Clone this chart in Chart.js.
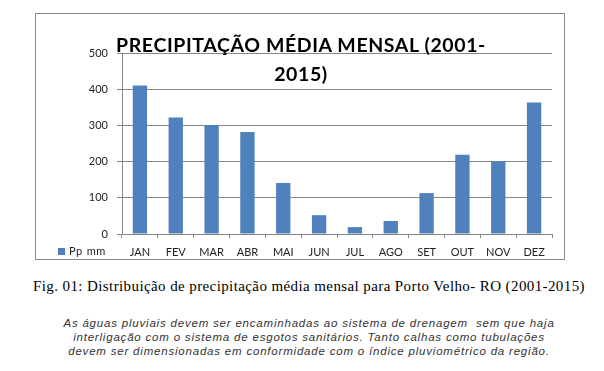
<!DOCTYPE html>
<html>
<head>
<meta charset="utf-8">
<script src="https://cdn.jsdelivr.net/npm/chart.js@4/dist/chart.umd.min.js"></script>
<style>
  html, body { margin: 0; padding: 0; background: #fff; }
  #page { position: relative; width: 604px; height: 371px; overflow: hidden; }
  #box { position: absolute; left: 35px; top: 13px; width: 528px; height: 245px; border: 1px solid #8a8a8a; }
  #chart { position: absolute; left: 0; top: 0; }
  #titulo { position: absolute; left: 0; top: 16px; width: 530px; text-align: center; font-family: Lato, sans-serif; font-weight: bold; font-size: 19.5px; letter-spacing: 0.6px; line-height: 29px; color: #000; }
  #legenda { position: absolute; left: 22px; top: 230px; font-family: Lato, sans-serif; font-size: 11px; color: #222; word-spacing: 1px; letter-spacing: 0.4px; }
  #legenda span { display: inline-block; width: 7px; height: 7px; margin-right: 4px; vertical-align: 0px; }
  #fig { position: absolute; left: 33px; top: 278px; font-family: "Liberation Serif", "Times New Roman", serif; font-size: 15px; letter-spacing: 0.4px; color: #000; white-space: nowrap; }
  #texto { position: absolute; left: 0; top: 316px; width: 618px; text-align: center; font-family: "Liberation Sans", Arial, sans-serif; font-style: italic; font-size: 11.5px; line-height: 14px; letter-spacing: 0.8px; color: #333; white-space: nowrap; }
</style>
</head>
<body>
<div id="page">
  <div id="box">
    <canvas id="chart" width="528" height="245"></canvas>
    <div id="titulo">PRECIPITAÇÃO MÉDIA MENSAL (2001-<br>2015)</div>
    <div id="legenda"></div>
  </div>
  <div id="fig">Fig. 01: Distribuição de precipitação média mensal para Porto Velho- RO (2001-2015)</div>
  <div id="texto">As águas pluviais devem ser encaminhadas ao sistema de drenagem&nbsp; sem que haja<br>interligação com o sistema de esgotos sanitários. Tanto calhas como tubulações<br>devem ser dimensionadas em conformidade com o índice pluviométrico da região.</div>
</div>
<script>
// dados
const meses = ['JAN', 'FEV', 'MAR', 'ABR', 'MAI', 'JUN', 'JUL', 'AGO', 'SET', 'OUT', 'NOV', 'DEZ'];
const precipitacao = [410, 322, 301, 282, 141, 52, 19, 36, 113, 219, 201, 363];
const nomeSerie = 'Pp mm';
const marcasY = [0, 100, 200, 300, 400, 500];

const corBarra = '#4f81bd';
const corGrade = '#868686';

const ctx = document.getElementById('chart').getContext('2d');

new Chart(ctx, {
    type: 'bar',
    data: {
        labels: meses,
        datasets: [{
            label: nomeSerie,
            data: precipitacao,
            backgroundColor: corBarra,
            borderWidth: 0,
            barPercentage: 0.4,
            categoryPercentage: 1
        }]
    },
    options: {
        responsive: false,
        animation: false,
        layout: { padding: { left: 46, top: 39, right: 12, bottom: 0 } },
        plugins: {
            legend: { display: false },
            title: { display: false },
            tooltip: { enabled: false }
        },
        scales: {
            x: {
                afterFit: function(scale) { scale.height = 25; },
                grid: { drawOnChartArea: false, tickLength: 4, color: corGrade, offset: true },
                border: { color: corGrade },
                ticks: { color: '#222', padding: 8, font: { family: 'Lato', size: 11 } }
            },
            y: {
                min: 0,
                max: 500,
                afterFit: function(scale) { scale.width = 40; },
                afterBuildTicks: function(scale) {
                    scale.ticks = marcasY.map(v => ({ value: v }));
                },
                grid: { color: corGrade, tickLength: 5 },
                border: { color: corGrade },
                ticks: { color: '#222', padding: 9, font: { family: 'Lato', size: 11 } }
            }
        }
    }
});

// legenda ao lado dos rótulos do eixo x, como no original
const legenda = document.getElementById('legenda');
legenda.innerHTML = '<span style="background:' + corBarra + '"></span>' + nomeSerie;
</script>
</body>
</html>
